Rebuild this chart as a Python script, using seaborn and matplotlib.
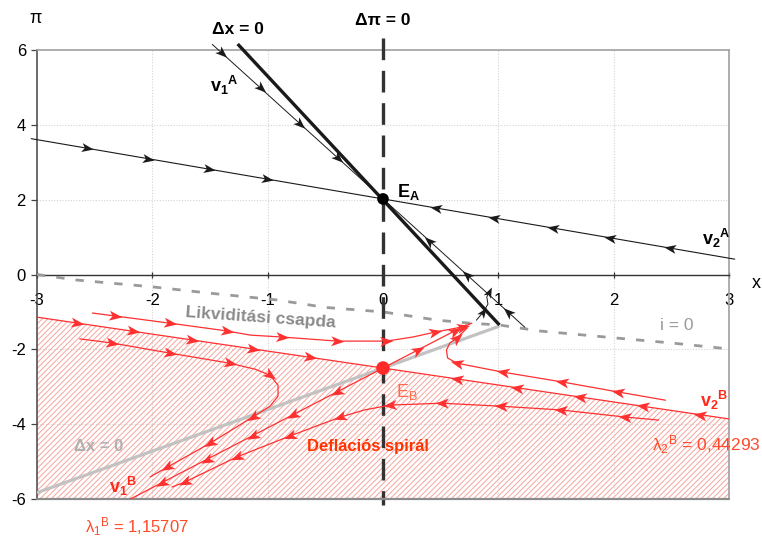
import numpy as np
import matplotlib
matplotlib.use("Agg")
import matplotlib.pyplot as plt
import seaborn as sns
from matplotlib.path import Path
from matplotlib.markers import MarkerStyle
from matplotlib.transforms import Affine2D

sns.set_theme(style="white")
plt.rcParams["font.family"] = ["Liberation Sans", "DejaVu Sans"]
plt.rcParams["mathtext.fontset"] = "custom"
plt.rcParams["mathtext.rm"] = "Liberation Sans"
plt.rcParams["mathtext.bf"] = "Liberation Sans:bold"
plt.rcParams["mathtext.it"] = "Liberation Sans:italic"
plt.rcParams["hatch.linewidth"] = 0.7

# ---------------- data ----------------
# equilibria
EA = (0.0, 2.02)
EB = (0.0, -2.5)

# nullclines
dxA_x, dxA_pi = [-1.26, 1.01], [6.16, -1.35]          # dx = 0 (regime A)
dxB_x, dxB_pi = [-3.0, 1.01], [-5.83, -1.38]          # dx = 0 (regime B)
dpi_x, dpi_pi = [0.0, 0.0], [6.32, -6.15]             # dpi = 0
i0_x = [-3.0, -2.65, -2.0, -1.5, -0.92, -0.5, 0.0, 0.47, 0.75, 1.01, 1.36, 2.03, 2.5, 3.0]
i0_pi = [0.0, -0.15, -0.33, -0.50, -0.68, -0.88, -1.0, -1.22, -1.30, -1.35, -1.51, -1.70, -1.83, -1.99]

# eigenvector lines (end points)
v1A_x, v1A_pi = [-1.48, 1.23], [6.15, -1.41]
v2A_x, v2A_pi = [-3.05, 3.05], [3.63, 0.41]
v1B_x, v1B_pi = [-2.19, 0.72], [-6.0, -1.35]
v2B_x, v2B_pi = [-3.0, 3.0], [-1.14, -3.86]

# arrow positions (x) on the eigenvector half-lines
v1A_up_arrows = [-1.40, -1.06, -0.72, -0.39]
v1A_dn_arrows = [1.08, 0.73, 0.40]
v2A_l_arrows = [-2.57, -2.04, -1.51, -1.01]
v2A_r_arrows = [2.49, 1.97, 1.47, 0.96, 0.46]
v2B_l_arrows = [-2.65, -2.17, -1.66, -1.13, -0.63]
v2B_r_arrows = [2.75, 2.25, 1.71, 1.16, 0.64]
v1B_dn_arrows = [-0.40, -0.78, -1.13, -1.53, -1.92]
v1B_up_arrows = [0.30, 0.62]

# trajectories (in direction of motion) and indices of arrowed vertices
t1_x = [-2.52, -2.32, -1.85, -1.35, -1.15, -0.88, -0.40, 0.03, 0.26, 0.45, 0.69, 0.77]
t1_pi = [-1.03, -1.11, -1.30, -1.51, -1.62, -1.67, -1.78, -1.78, -1.67, -1.54, -1.40, -1.30]
t1_arr = [1, 2, 3, 5, 6, 7, 9, 10]

t3_x = [-2.63, -2.35, -1.85, -1.33, -1.11, -0.98, -0.91, -0.91, -0.98, -1.13, -1.50, -1.87, -2.02]
t3_pi = [-1.72, -1.83, -2.10, -2.37, -2.53, -2.69, -2.96, -3.25, -3.52, -3.81, -4.51, -5.15, -5.41]
t3_arr = [1, 2, 3, 5, 9, 10, 11]

t4_x = [2.45, 2.04, 1.55, 1.04, 0.64, 0.56, 0.55, 0.58, 0.64, 0.73]
t4_pi = [-3.36, -3.14, -2.87, -2.61, -2.37, -2.23, -2.02, -1.83, -1.70, -1.43]
t4_arr = [1, 2, 3, 4, 8]

t5_x = [2.39, 2.10, 1.54, 1.02, 0.51, 0.06, -0.16, -0.37, -0.81, -1.27, -1.72, -1.83]
t5_pi = [-3.89, -3.81, -3.62, -3.52, -3.44, -3.49, -3.62, -3.81, -4.32, -4.88, -5.55, -5.68]
t5_arr = [1, 2, 3, 4, 5, 7, 8, 9, 10]

ta_x = [0.81, 0.87, 0.91, 0.90, 0.92]
ta_pi = [-1.22, -1.00, -0.79, -0.60, -0.47]
ta_arr = [1, 4]

x_ticks = [-3, -2, -1, 0, 1, 2, 3]
pi_ticks = [-6, -4, -2, 0, 2, 4, 6]

# ---------------- styling ----------------
BLACK = "#1a1a1a"
RED = "#ff3030"
HATCH = "#f7a59c"
GRAY_NULL = "#c2c2c2"
GRAY_I0 = "#9a9a9a"
FRAME = "#a0a0a0"

fig = plt.figure(figsize=(7.62, 5.39), dpi=100)
ax = fig.add_axes([37 / 762, 1 - 499 / 539, (729 - 37) / 762, (499 - 50) / 539])
ax.set_xlim(-3, 3)
ax.set_ylim(-6, 6)

# grid
for g in [-2, -1, 1, 2]:
    ax.axvline(g, color="#d4d4d4", lw=0.8, ls=(0, (1, 1.5)), zorder=0)
for g in [-4, -2, 2, 4]:
    ax.axhline(g, color="#d4d4d4", lw=0.8, ls=(0, (1, 1.5)), zorder=0)

# deflationary region below the stable manifold of E_B
ax.fill_between(v2B_x, -6, v2B_pi, facecolor="none", edgecolor=HATCH,
                hatch="//////", linewidth=0, zorder=1)

# frame
for side in ["top", "right"]:
    ax.spines[side].set_color(FRAME)
    ax.spines[side].set_linewidth(1.2)
ax.spines["left"].set_color("#444444")
ax.spines["left"].set_linewidth(1.1)
ax.spines["bottom"].set_position(("data", 0))
ax.spines["bottom"].set_color("#333333")
ax.spines["bottom"].set_linewidth(1.0)
ax.axhline(-6, color="#8c8c8c", lw=1.6, zorder=5, clip_on=False)

ax.set_xticks(x_ticks)
ax.set_yticks(pi_ticks)
ax.set_xticklabels([str(t) for t in x_ticks])
ax.set_yticklabels([str(t) for t in pi_ticks])
ax.tick_params(axis="x", direction="inout", length=4.5, width=0.9, color="#333333",
               pad=11, labelsize=12, labelcolor="black", bottom=True)
ax.tick_params(axis="y", direction="out", length=4, width=0.9, color="#444444",
               pad=4, labelsize=12, labelcolor="black", left=True)
ax.set_xlabel("")
ax.set_ylabel("")

# nullclines
sns.lineplot(x=i0_x, y=i0_pi, ax=ax, sort=False, estimator=None, color=GRAY_I0,
             lw=2.0, linestyle=(0, (3.0, 4.0)), zorder=3)
sns.lineplot(x=dxB_x, y=dxB_pi, ax=ax, sort=False, estimator=None, color=GRAY_NULL,
             lw=2.3, zorder=3, solid_capstyle="butt")
sns.lineplot(x=dpi_x, y=dpi_pi, ax=ax, sort=False, estimator=None, color="#333333",
             lw=2.4, linestyle=(0, (6.5, 3.2)), zorder=4, clip_on=False)
sns.lineplot(x=dxA_x, y=dxA_pi, ax=ax, sort=False, estimator=None, color=BLACK,
             lw=2.4, zorder=6, clip_on=False, solid_capstyle="butt")

# eigenvector lines
sns.lineplot(x=v1A_x, y=v1A_pi, ax=ax, sort=False, estimator=None, color=BLACK,
             lw=0.7, zorder=6, clip_on=False)
sns.lineplot(x=v2A_x, y=v2A_pi, ax=ax, sort=False, estimator=None, color=BLACK,
             lw=0.8, zorder=6, clip_on=False)
sns.lineplot(x=v1B_x, y=v1B_pi, ax=ax, sort=False, estimator=None, color=RED,
             lw=0.9, zorder=6)
sns.lineplot(x=v2B_x, y=v2B_pi, ax=ax, sort=False, estimator=None, color=RED,
             lw=0.9, zorder=6)

# trajectories
for tx, ty in [(t1_x, t1_pi), (t3_x, t3_pi), (t4_x, t4_pi), (t5_x, t5_pi)]:
    sns.lineplot(x=tx, y=ty, ax=ax, sort=False, estimator=None, color=RED,
                 lw=0.9, zorder=6)
sns.lineplot(x=ta_x, y=ta_pi, ax=ax, sort=False, estimator=None, color=BLACK,
             lw=0.7, zorder=6)

# ---------------- arrowheads ----------------
_head = Path([(1.0, 0.0), (-0.9, 0.72), (-0.42, 0.0), (-0.9, -0.72), (1.0, 0.0)],
             [Path.MOVETO, Path.LINETO, Path.LINETO, Path.LINETO, Path.CLOSEPOLY])


def _angle(p, d):
    a = ax.transData.transform(p)
    b = ax.transData.transform((p[0] + d[0] * 1e-3, p[1] + d[1] * 1e-3))
    return np.degrees(np.arctan2(b[1] - a[1], b[0] - a[0]))


def head(p, d, color, size):
    m = MarkerStyle(_head, transform=Affine2D().rotate_deg(_angle(p, d)))
    ax.plot([p[0]], [p[1]], marker=m, ms=size, color=color, mew=0, ls="none",
            zorder=8, clip_on=False)


def heads_on_segment(start, end, xs, color, size):
    d = (end[0] - start[0], end[1] - start[1])
    order = np.argsort([start[0], end[0]])
    sx = np.array([start[0], end[0]])[order]
    sy = np.array([start[1], end[1]])[order]
    for x in xs:
        head((x, np.interp(x, sx, sy)), d, color, size)


def heads_on_path(px, py, idx, color, size):
    n = len(px)
    for i in idx:
        a, b = max(i - 1, 0), min(i + 1, n - 1)
        head((px[i], py[i]), (px[b] - px[a], py[b] - py[a]), color, size)


# regime A (black)
heads_on_segment((v1A_x[0], v1A_pi[0]), EA, v1A_up_arrows, BLACK, 9)
heads_on_segment((v1A_x[1], v1A_pi[1]), EA, v1A_dn_arrows, BLACK, 9)
heads_on_segment((v2A_x[0], v2A_pi[0]), EA, v2A_l_arrows, BLACK, 9)
heads_on_segment((v2A_x[1], v2A_pi[1]), EA, v2A_r_arrows, BLACK, 9)
heads_on_path(ta_x, ta_pi, ta_arr, BLACK, 8)

# regime B (red)
heads_on_segment((v2B_x[0], v2B_pi[0]), EB, v2B_l_arrows, RED, 10)
heads_on_segment((v2B_x[1], v2B_pi[1]), EB, v2B_r_arrows, RED, 10)
heads_on_segment(EB, (v1B_x[0], v1B_pi[0]), v1B_dn_arrows, RED, 10)
heads_on_segment(EB, (v1B_x[1], v1B_pi[1]), v1B_up_arrows, RED, 10)
for tx, ty, ti in [(t1_x, t1_pi, t1_arr), (t3_x, t3_pi, t3_arr),
                   (t4_x, t4_pi, t4_arr), (t5_x, t5_pi, t5_arr)]:
    heads_on_path(tx, ty, ti, RED, 10)

# equilibria
sns.scatterplot(x=[EA[0]], y=[EA[1]], ax=ax, s=70, color="black", edgecolor="none", zorder=9)
sns.scatterplot(x=[EB[0]], y=[EB[1]], ax=ax, s=95, color="#ff2a2a", edgecolor="none", zorder=9)

# ---------------- labels ----------------
kw = dict(ha="center", va="center", clip_on=False)
ax.text(-3.01, 6.83, "π", fontsize=13, color="black", **kw)
ax.text(3.235, -0.23, "x", fontsize=13, color="black", **kw)
ax.text(-1.26, 6.54, "Δx = 0", fontsize=12.5, fontweight="bold", color="black", **kw)
ax.text(0.0, 6.78, "Δπ = 0", fontsize=12.5, fontweight="bold", color="black", **kw)
ax.text(-1.38, 5.04, r"${\mathbf{v}_\mathbf{1}}^\mathbf{A}$", fontsize=13, color="black", **kw)
ax.text(0.22, 2.2, r"$\mathbf{E_A}$", fontsize=13, color="black", **kw)
ax.text(2.89, 0.97, r"${\mathbf{v}_\mathbf{2}}^\mathbf{A}$", fontsize=13, color="black", **kw)
ax.text(-1.06, -1.16, "Likviditási csapda", fontsize=12.5, fontweight="bold",
        color="#8a8a8a", rotation=-4, **kw)
ax.text(2.55, -1.35, "i = 0", fontsize=12.5, color="#9a9a9a", **kw)
ax.text(0.21, -3.14, r"$\mathrm{E_B}$", fontsize=13, color="#ff6a4a", **kw)
ax.text(2.87, -3.36, r"${\mathbf{v}_\mathbf{2}}^\mathbf{B}$", fontsize=13, color="#ff2a1a", **kw)
ax.text(2.80, -4.56, r"${\mathrm{\lambda}_2}^{\mathrm{B}}$ = 0,44293", fontsize=12.5,
        color="#ff4a2a", **kw)
ax.text(-2.47, -4.59, "Δx = 0", fontsize=12, fontweight="bold", color="#b0b0b0", **kw)
ax.text(-0.13, -4.59, "Deflációs spirál", fontsize=12, fontweight="bold", color="#ff3300", **kw)
ax.text(-2.25, -5.66, r"${\mathbf{v}_\mathbf{1}}^\mathbf{B}$", fontsize=13, color="#ff2a1a", **kw)
ax.text(-2.13, -6.74, r"${\mathrm{\lambda}_1}^{\mathrm{B}}$ = 1,15707", fontsize=12,
        color="#ff4a2a", **kw)

fig.savefig("out.png", dpi=100)
